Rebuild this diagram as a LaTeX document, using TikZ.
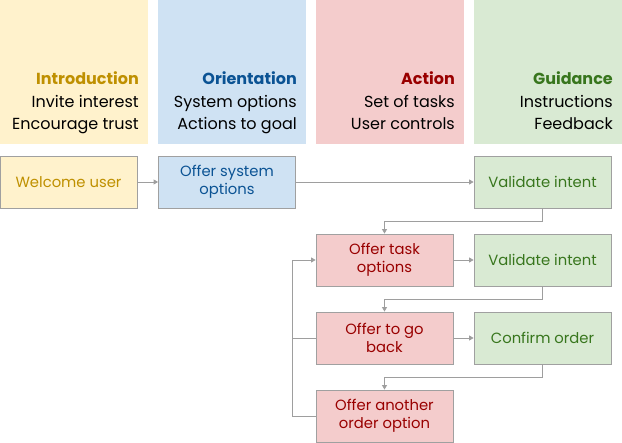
\documentclass[tikz,border=0pt]{standalone}
\usepackage{fontspec}
\setmainfont{Poppins}
\usetikzlibrary{arrows.meta}
\definecolor{yfill}{HTML}{FFF2CC}
\definecolor{bfill}{HTML}{CFE2F3}
\definecolor{rfill}{HTML}{F4CCCC}
\definecolor{gfill}{HTML}{D9EAD3}
\definecolor{ytext}{HTML}{BF9000}
\definecolor{btext}{HTML}{0B5394}
\definecolor{rtext}{HTML}{990000}
\definecolor{gtext}{HTML}{38761D}
\definecolor{edge}{HTML}{A0A0A0}
\definecolor{wire}{HTML}{9E9E9E}
\begin{document}
\begin{tikzpicture}[x=1pt,y=-1pt,
  hdr/.style={align=right,inner sep=0pt,anchor=base east,font=\fontsize{16}{22.3}\selectfont},
  box/.style={draw=edge,line width=0.8pt,minimum width=137pt,minimum height=52pt,align=center,inner sep=2pt,font=\fontsize{14.8}{18}\selectfont},
  ybox/.style={box,fill=yfill,text=ytext},
  bbox/.style={box,fill=bfill,text=btext},
  rbox/.style={box,fill=rfill,text=rtext},
  gbox/.style={box,fill=gfill,text=gtext},
  wirestyle/.style={draw=wire,line width=0.8pt},
  arr/.style={wirestyle,-{Triangle[width=5pt,length=4.5pt]}}]
\useasboundingbox (0,0) rectangle (622,443);
% header columns
\fill[yfill] (0,0) rectangle (148,144);
\fill[bfill] (158,0) rectangle (306,144);
\fill[rfill] (316,0) rectangle (464,144);
\fill[gfill] (474,0) rectangle (622,144);
\node[hdr] (h1) at (139,129.5) {\textbf{\color{ytext}Introduction}\\Invite interest\\Encourage trust};
\node[hdr] (h2) at (297,129.5) {\textbf{\color{btext}Orientation}\\System options\\Actions to goal};
\node[hdr] (h3) at (455,129.5) {\textbf{\color{rtext}Action}\\Set of tasks\\User controls};
\node[hdr] (h4) at (613,129.5) {\textbf{\color{gtext}Guidance}\\Instructions\\Feedback};
% boxes
\node[ybox] (welcome) at (68.5,182) {Welcome user};
\node[bbox] (sys) at (227,182) {Offer system\\options};
\node[gbox] (val1) at (542.5,182) {Validate intent};
\node[rbox] (task) at (384.5,260) {Offer task\\options};
\node[gbox] (val2) at (542.5,260) {Validate intent};
\node[rbox] (back) at (384.5,338) {Offer to go\\back};
\node[gbox] (confirm) at (542.5,338) {Confirm order};
\node[rbox] (another) at (384.5,416) {Offer another\\order option};
\coordinate (j1) at (542.5,221);
\coordinate (j2) at (542.5,299);
\coordinate (j3) at (542.5,377);
\coordinate (lp) at (292.5,260);
% connectors
\draw[arr] (welcome) -- (sys);
\draw[arr] (sys) -- (val1);
\draw[arr] (val1.south) -- (j1) -| (task.north);
\draw[arr] (task) -- (val2);
\draw[arr] (val2.south) -- (j2) -| (back.north);
\draw[arr] (back) -- (confirm);
\draw[arr] (confirm.south) -- (j3) -| (another.north);
\draw[arr] (another.west) -| (lp) -- (task.west);
\draw[wirestyle] (back.west) -- (back.west -| lp);
\end{tikzpicture}
\end{document}
